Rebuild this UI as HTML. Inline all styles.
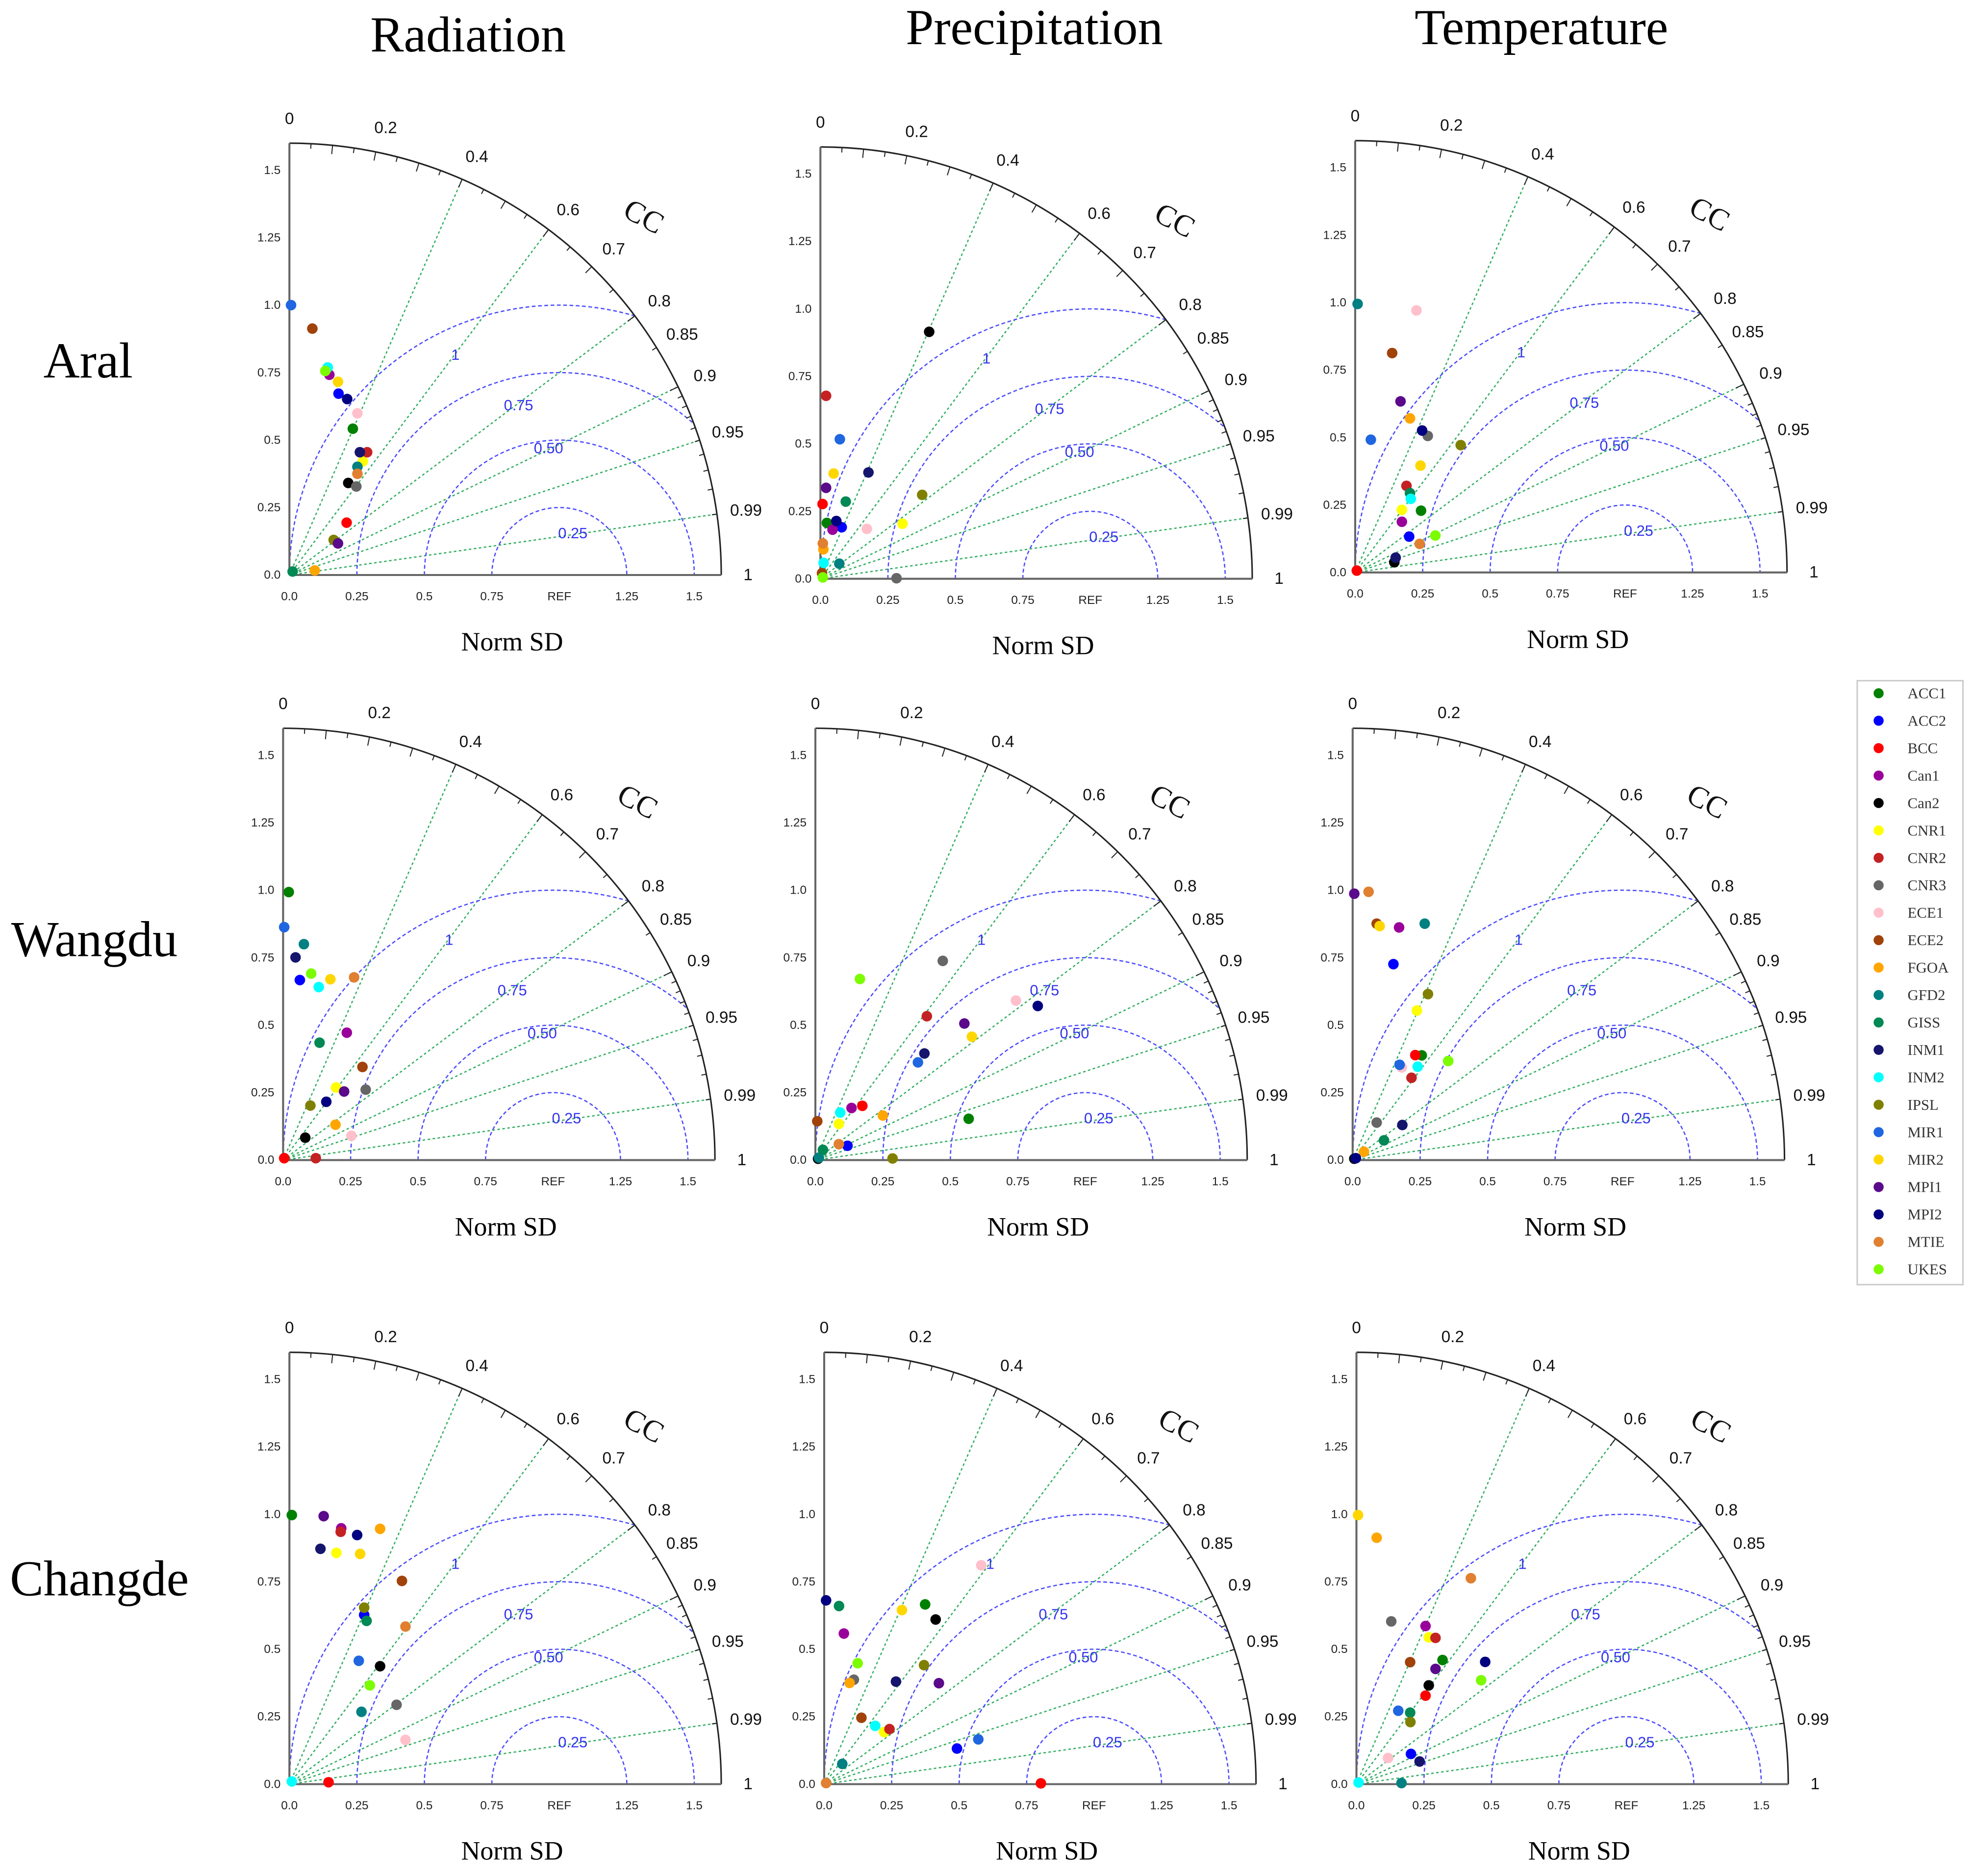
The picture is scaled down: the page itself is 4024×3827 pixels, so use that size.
<!DOCTYPE html>
<html><head><meta charset="utf-8">
<style>
html,body{margin:0;padding:0;background:#fff;}
svg{display:block;}
</style></head>
<body>
<svg id="fig" xmlns="http://www.w3.org/2000/svg" width="4024" height="3827" viewBox="0 0 1568 1491" preserveAspectRatio="none">
<rect x="0" y="0" width="1568" height="1491" fill="#fff"/>
<g font-family="'Liberation Serif', serif" fill="#000">
<text x="372" y="41" font-size="40" text-anchor="middle">Radiation</text>
<text x="822" y="35" font-size="40" text-anchor="middle">Precipitation</text>
<text x="1225" y="35" font-size="40" text-anchor="middle">Temperature</text>
<text x="70" y="300" font-size="40" text-anchor="middle">Aral</text>
<text x="75" y="760" font-size="40" text-anchor="middle">Wangdu</text>
<text x="79" y="1268" font-size="40" text-anchor="middle">Changde</text>
</g>
<g id="panels"></g>
<g id="legend"></g>
</svg>
<script>
const NS = "http://www.w3.org/2000/svg";
const models = ["ACC1","ACC2","BCC","Can1","Can2","CNR1","CNR2","CNR3","ECE1","ECE2","FGOA","GFD2","GISS","INM1","INM2","IPSL","MIR1","MIR2","MPI1","MPI2","MTIE","UKES"];
const colors = ["#008000","#0000ff","#ff0000","#990099","#000000","#ffff00","#c42222","#666666","#ffc0cb","#a0420a","#ffa500","#008080","#008855","#15156e","#00ffff","#808000","#1f66e0","#ffd700","#5a0a8a","#000080","#e08030","#7cfc00"];
const ccTicks = [0.2,0.4,0.6,0.7,0.8,0.85,0.9,0.95,0.99];
const ccTickLabels = ["0.2","0.4","0.6","0.7","0.8","0.85","0.9","0.95","0.99"];
const ccLines = [0.4,0.6,0.8,0.9,0.95,0.99];
const rmsLevels = [0.25,0.5,0.75,1];
const rmsLabels = ["0.25","0.50","0.75","1"];
const yTickVals = [0,0.25,0.5,0.75,1,1.25,1.5];
const yTickLabels = ["0.0","0.25","0.5","0.75","1.0","1.25","1.5"];
const xTickLabels = ["0.0","0.25","0.5","0.75","REF","1.25","1.5"];

const aralRadX = [.235,.182,.212,.148,.218,.272,.288,.248,.252,.085,.094,.252,.012,.261,.142,.164,.006,.180,.180,.214,.252,.133];
const aralRadY = [.542,.672,.194,.742,.341,.421,.455,.328,.599,.913,.017,.401,.013,.455,.769,.130,1.0,.716,.117,.652,.375,.756];
const aralPrecX = [.024,.079,.008,.045,.403,.304,.021,.282,.172,.006,.011,.070,.094,.178,.012,.377,.072,.049,.021,.059,.009,.009];
const aralPrecY = [.207,.191,.277,.182,.915,.204,.678,.002,.185,.021,.109,.056,.286,.394,.059,.311,.517,.390,.337,.214,.131,.005];
const aralTempX = [.244,.200,.006,.173,.145,.173,.190,.269,.227,.137,.203,.009,.203,.150,.206,.391,.058,.242,.168,.248,.239,.297];
const aralTempY = [.229,.133,.007,.188,.038,.232,.321,.506,.971,.813,.571,.995,.294,.055,.273,.472,.492,.396,.634,.526,.106,.137];
const wangRadX = [.021,.062,.004,.236,.082,.196,.121,.306,.253,.294,.194,.077,.135,.046,.132,.101,.004,.175,.226,.160,.263,.104];
const wangRadY = [.993,.667,.007,.472,.083,.269,.007,.261,.090,.345,.131,.800,.435,.751,.641,.202,.863,.670,.254,.216,.677,.691];
const wangPrecX = [.568,.119,.174,.134,.010,.087,.413,.472,.743,.007,.250,.013,.028,.404,.092,.286,.380,.580,.552,.824,.087,.165];
const wangPrecY = [.153,.053,.201,.193,.005,.134,.533,.738,.591,.144,.165,.009,.038,.395,.176,.006,.362,.457,.506,.571,.059,.671];
const wangTempX = [.256,.151,.232,.172,.006,.238,.218,.089,.182,.089,.042,.267,.116,.184,.241,.279,.174,.100,.006,.012,.059,.354];
const wangTempY = [.388,.726,.389,.862,.005,.554,.305,.139,.343,.876,.031,.876,.073,.130,.346,.615,.353,.867,.987,.007,.994,.367];
const changRadX = [.009,.277,.145,.192,.336,.174,.190,.397,.430,.417,.336,.267,.286,.115,.009,.277,.257,.262,.127,.251,.430,.298];
const changRadY = [.997,.627,.007,.948,.437,.857,.935,.294,.164,.753,.946,.268,.605,.872,.010,.654,.457,.853,.993,.923,.584,.366];
const changPrecX = [.374,.492,.803,.073,.413,.222,.242,.110,.582,.138,.094,.067,.055,.266,.189,.370,.571,.288,.425,.007,.007,.124];
const changPrecY = [.666,.132,.003,.558,.610,.193,.204,.387,.811,.246,.375,.075,.660,.380,.216,.441,.166,.645,.374,.681,.004,.448];
const changTempX = [.319,.202,.256,.256,.268,.268,.293,.129,.117,.199,.075,.167,.199,.234,.008,.200,.155,.006,.293,.477,.424,.462];
const changTempY = [.460,.112,.328,.586,.366,.544,.542,.603,.097,.452,.913,.004,.265,.084,.006,.230,.272,.997,.427,.453,.763,.385];

const U = 214.5, RMAX = 1.6;
const panels = [
 {id:"aral-radiation",ox:230,oy:457,xs:aralRadX,ys:aralRadY},
 {id:"aral-precipitation",ox:652,oy:460,xs:aralPrecX,ys:aralPrecY},
 {id:"aral-temperature",ox:1077,oy:455,xs:aralTempX,ys:aralTempY},
 {id:"wangdu-radiation",ox:225,oy:922,xs:wangRadX,ys:wangRadY},
 {id:"wangdu-precipitation",ox:648,oy:922,xs:wangPrecX,ys:wangPrecY},
 {id:"wangdu-temperature",ox:1075,oy:922,xs:wangTempX,ys:wangTempY},
 {id:"changde-radiation",ox:230,oy:1418,xs:changRadX,ys:changRadY},
 {id:"changde-precipitation",ox:655,oy:1418,xs:changPrecX,ys:changPrecY},
 {id:"changde-temperature",ox:1078,oy:1418,xs:changTempX,ys:changTempY}
];
const rmsLabelPos = [[0.05,0.155],[-0.04,0.47],[-0.151,0.629],[-0.385,0.816]];

function mk(tag, attrs, parent){ const e=document.createElementNS(NS,tag); for(const k in attrs) e.setAttribute(k,attrs[k]); if(parent) parent.appendChild(e); return e; }
const root = document.getElementById("panels");

panels.forEach(p=>{
  const X = v=>p.ox+v*U, Y = v=>p.oy-v*U;
  const g = mk("g",{},root);
  
  

  ccLines.forEach(c=>{
    const s=Math.sqrt(1-c*c);
    const l=mk("line",{x1:X(0),y1:Y(0),x2:X(RMAX*c),y2:Y(RMAX*s),stroke:"#2fae5f","stroke-width":1,"stroke-dasharray":"2,2"},g);
    
    
  });

  rmsLevels.forEach((r,i)=>{
    const xi = (1 - r*r + RMAX*RMAX)/2;
    const endA = (xi < 1 + r) ? Math.atan2(Math.sqrt(Math.max(0,RMAX*RMAX-xi*xi)), xi-1) : 0;
    const startA = Math.PI;
    const N=80;
    const pts=[];
    for(let k=0;k<=N;k++){
      const a = startA + (endA-startA)*k/N;
      const xx = 1 + r*Math.cos(a), yy = r*Math.sin(a);
      pts.push(X(xx).toFixed(2)+","+Y(yy).toFixed(2));
    }
    const pl=mk("polyline",{points:pts.join(" "),fill:"none",stroke:"#4b4bff","stroke-width":1,"stroke-dasharray":"3,2"},g);
    
    
    const lp = rmsLabelPos[i];
    const t=mk("text",{x:X(1+lp[0]),y:Y(lp[1])+4,"font-size":12,"text-anchor":"middle",fill:"#3333ee","font-family":"'Liberation Sans', sans-serif"},g);
    t.textContent = rmsLabels[i];
    
    
  });

  const arc=mk("path",{d:"M "+X(0)+" "+Y(RMAX)+" A "+(RMAX*U)+" "+(RMAX*U)+" 0 0 1 "+X(RMAX)+" "+Y(0),fill:"none",stroke:"#222","stroke-width":1.2},g);
  
  
  for(let k=1;k<100;k++){
    const c=k/100;
    if(k%10!==0 && k<90 && k%5!==0) continue;
    const s=Math.sqrt(1-c*c);
    const len = (k%10===0)?7:4;
    const r1=RMAX, r2=RMAX-len/U;
    mk("line",{x1:X(r1*c),y1:Y(r1*s),x2:X(r2*c),y2:Y(r2*s),stroke:"#222","stroke-width":0.8},g);
  }
  const ya=mk("line",{x1:X(0),y1:Y(0),x2:X(0),y2:Y(RMAX),stroke:"#666","stroke-width":1.6},g);
  
  
  const xa=mk("line",{x1:X(0),y1:Y(0),x2:X(RMAX),y2:Y(0),stroke:"#666","stroke-width":1.6},g);
  
  

  yTickVals.forEach((v,i)=>{
    const t=mk("text",{x:X(0)-7,y:Y(v)+3,"font-size":9.5,"text-anchor":"end",fill:"#222","font-family":"'Liberation Sans', sans-serif"},g);
    t.textContent=yTickLabels[i];
    
    
    const t2=mk("text",{x:X(v),y:Y(0)+20,"font-size":9.5,"text-anchor":"middle",fill:"#222","font-family":"'Liberation Sans', sans-serif"},g);
    t2.textContent=xTickLabels[i];
    
    
  });

  const RL=1.69;
  ccTicks.forEach((c,i)=>{
    const s=Math.sqrt(1-c*c);
    const t=mk("text",{x:X(RL*c)+4,y:Y(RL*s)+4,"font-size":13,"text-anchor":"middle",fill:"#111","font-family":"'Liberation Sans', sans-serif"},g);
    t.textContent=ccTickLabels[i];
    
    
  });
  const t0=mk("text",{x:X(0),y:Y(RL)+4,"font-size":13,"text-anchor":"middle",fill:"#111","font-family":"'Liberation Sans', sans-serif"},g);
  t0.textContent="0";
  
  
  const t1=mk("text",{x:X(RL)+2,y:Y(0)+4,"font-size":13,"text-anchor":"middle",fill:"#111","font-family":"'Liberation Sans', sans-serif"},g);
  t1.textContent="1";
  
  

  const cc=mk("text",{x:0,y:0,"font-size":24,"text-anchor":"middle",fill:"#111","font-family":"'Liberation Serif', serif",transform:"translate("+(X(0)+278)+","+(Y(0)-278)+") rotate(28)"},g);
  cc.textContent="CC";
  
  

  const ns=mk("text",{x:X(0)+177,y:Y(0)+60,"font-size":21,"text-anchor":"middle",fill:"#000","font-family":"'Liberation Serif', serif"},g);
  ns.textContent="Norm SD";
  
  

  p.xs.forEach((xv,i)=>{
    const c=mk("circle",{cx:X(xv),cy:Y(p.ys[i]),r:4.2,fill:colors[i]},g);
    
    
  });
});

const lg=document.getElementById("legend");
const box=mk("rect",{x:1476,y:541,width:84,height:480,fill:"#fff",stroke:"#ccc","stroke-width":1.2},lg);


models.forEach((m,i)=>{
  const y=551+i*21.8;
  const c=mk("circle",{cx:1493,cy:y,r:4,fill:colors[i]},lg);
  
  
  const t=mk("text",{x:1516,y:y+4,"font-size":12,fill:"#333","font-family":"'Liberation Serif', serif"},lg);
  t.textContent=m;
  
  
});
</script>
</body></html>
